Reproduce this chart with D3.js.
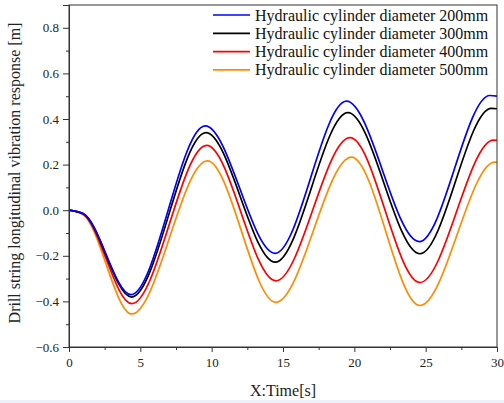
<!DOCTYPE html>
<html>
<head>
<meta charset="utf-8">
<script src="https://cdn.jsdelivr.net/npm/d3@7"></script>
<style>
  body { margin: 0; background: #fff; }
  svg { display: block; font-family: "Liberation Serif", "Times New Roman", serif; }
</style>
</head>
<body>
<div id="chart"></div>
<script>
// chart data (turning points of each curve)
var labels = ["Hydraulic cylinder diameter 200mm", "Hydraulic cylinder diameter 300mm",
              "Hydraulic cylinder diameter 400mm", "Hydraulic cylinder diameter 500mm"]
var colors = ["#0000ff", "#000000", "#ff0000", "#ff8c00"]

var t200 = [0, 1.0, 4.35, 9.55, 14.45, 19.45, 24.55, 29.5, 30]
var y200 = [0, -0.015, -0.370, 0.370, -0.189, 0.478, -0.138, 0.503, 0.500]
var t300 = [0, 1.0, 4.38, 9.6, 14.45, 19.55, 24.6, 29.6, 30]
var y300 = [0, -0.016, -0.381, 0.340, -0.228, 0.428, -0.191, 0.447, 0.445]
var t400 = [0, 1.0, 4.4, 9.65, 14.5, 19.7, 24.6, 29.75, 30]
var y400 = [0, -0.018, -0.410, 0.284, -0.310, 0.318, -0.317, 0.307, 0.306]
var t500 = [0, 1.0, 4.4, 9.7, 14.5, 19.8, 24.6, 29.85, 30]
var y500 = [0, -0.020, -0.455, 0.216, -0.404, 0.233, -0.418, 0.211, 0.210]

var xTicks = [0, 5, 10, 15, 20, 25, 30]
var yTicks = [-0.6, -0.4, -0.2, 0.0, 0.2, 0.4, 0.6, 0.8]

var times = [t200, t300, t400, t500]
var values = [y200, y300, y400, y500]

var serif = "'Liberation Serif', 'Times New Roman', serif"

// size of the picture
var width = 504
    height = 403
var margin = {top: 5, right: 7, bottom: 56, left: 69}
var w = width - margin.left - margin.right
var h = height - margin.top - margin.bottom

var svg = d3.select("#chart")
  .append("svg")
    .attr("width", width)
    .attr("height", height)

// faint strip at the bottom of the picture
svg.append("rect")
  .attr("x", 0).attr("y", 400)
  .attr("width", width).attr("height", 3)
  .attr("fill", "#eef2f8")

var g = svg.append("g")
  .attr("transform", "translate(" + margin.left + "," + margin.top + ")")

var x = d3.scaleLinear().domain([0, 30]).range([0, w])
var y = d3.scaleLinear().domain([-0.6, 0.9]).range([h, 0])

// curves
var line = d3.line()
  .x(function(d){ return x(d[0]) })
  .y(function(d){ return y(d[1]) })
  .curve(d3.curveMonotoneX)

// orange first so blue ends on top
for (var i = 3; i >= 0; i--) {
  var pts = times[i].map(function(t, k){ return [t, values[i][k]] })
  g.append("path")
    .datum(pts)
    .attr("d", line)
    .attr("fill", "none")
    .attr("stroke", colors[i])
    .attr("stroke-width", 1.7)
}

// frame
g.append("rect")
  .attr("width", w).attr("height", h)
  .attr("fill", "none")
  .attr("stroke", "#333")
  .attr("stroke-width", 1)

// minor ticks
var xMinor = d3.range(2.5, 30, 5)
var yMinor = d3.range(-5, 8, 2).map(function(v){ return v / 10 })

g.append("g")
  .attr("transform", "translate(0," + h + ")")
  .call(d3.axisBottom(x).tickValues(xMinor).tickSize(3).tickFormat(""))
  .call(function(s){ s.select(".domain").remove() })
g.append("g")
  .call(d3.axisLeft(y).tickValues(yMinor).tickSize(3).tickFormat(""))
  .call(function(s){ s.select(".domain").remove() })

// major axes
var xAxis = g.append("g")
  .attr("transform", "translate(0," + h + ")")
  .call(d3.axisBottom(x).tickValues(xTicks).tickSize(5).tickPadding(6).tickFormat(d3.format("d")))
var yAxis = g.append("g")
  .call(d3.axisLeft(y).tickValues(yTicks).tickSize(6).tickPadding(4).tickFormat(d3.format(".1f")))

xAxis.attr("font-family", serif).attr("font-size", 13)
yAxis.attr("font-family", serif).attr("font-size", 13)

g.selectAll(".tick line").attr("stroke", "#333")
g.selectAll(".domain").attr("stroke", "#333")
g.selectAll(".tick text").attr("fill", "#222")

// axis titles
svg.append("text")
  .attr("x", margin.left + w / 2)
  .attr("y", 396)
  .attr("text-anchor", "middle")
  .attr("font-family", serif)
  .attr("font-size", 16)
  .attr("fill", "#222")
  .text("X:Time[s]")

svg.append("text")
  .attr("transform", "translate(20," + (margin.top + h / 2 - 3) + ") rotate(-90)")
  .attr("text-anchor", "middle")
  .attr("font-family", serif)
  .attr("font-size", 16)
  .attr("fill", "#222")
  .text("Drill string longitudinal vibration response [m]")

// legend
var legend = svg.append("g")
legend.selectAll("line")
  .data(labels)
  .enter()
  .append("line")
    .attr("x1", 213).attr("x2", 250)
    .attr("y1", function(d, i){ return 15 + i * 18.3 })
    .attr("y2", function(d, i){ return 15 + i * 18.3 })
    .attr("stroke", function(d, i){ return colors[i] })
    .attr("stroke-width", 1.7)
legend.selectAll("text")
  .data(labels)
  .enter()
  .append("text")
    .attr("x", 255)
    .attr("y", function(d, i){ return 20.5 + i * 18.3 })
    .attr("font-family", serif)
    .attr("font-size", 16)
    .attr("fill", "#111")
    .text(function(d){ return d })
</script>
</body>
</html>
